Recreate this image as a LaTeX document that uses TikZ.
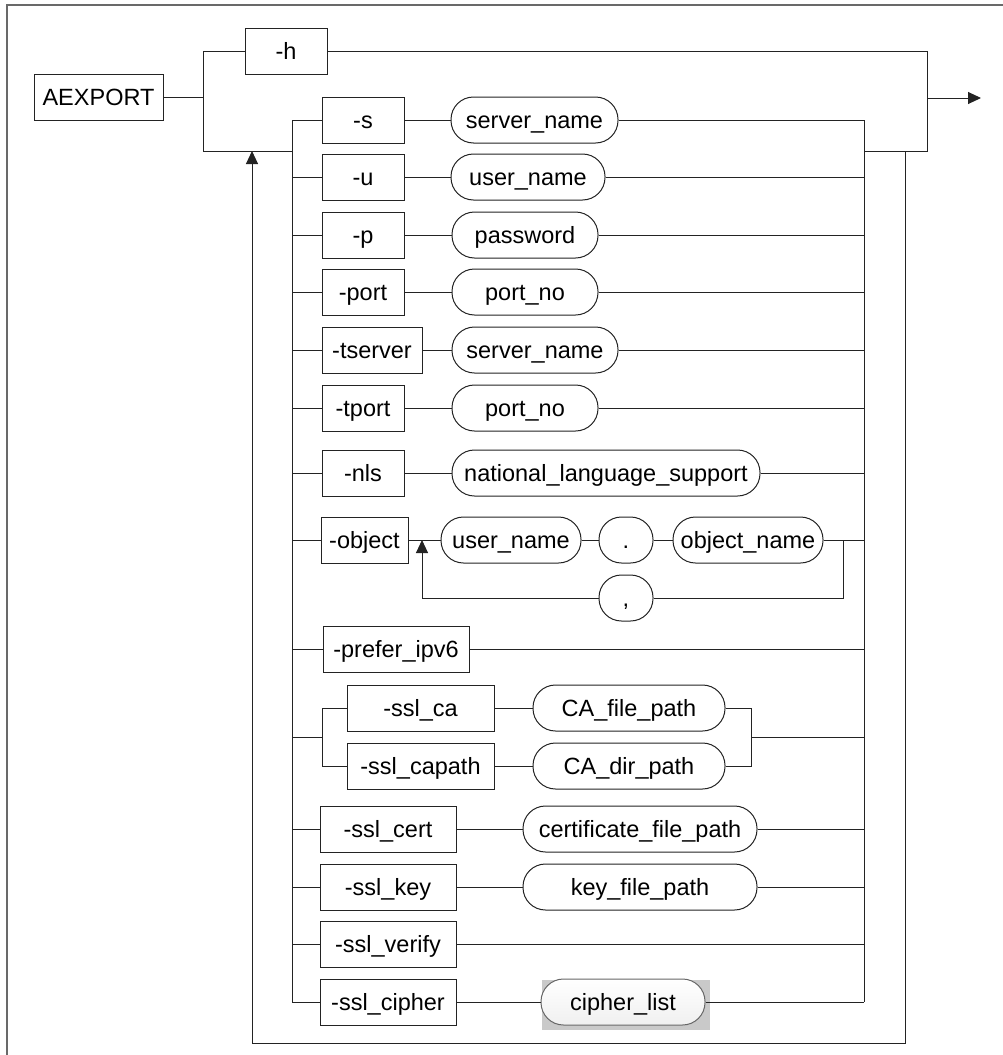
\documentclass[tikz,border=0pt]{standalone}
\usepackage{fontspec}
\setmainfont{Liberation Sans}
\usetikzlibrary{arrows.meta}
\definecolor{ln}{RGB}{35,35,35}
\definecolor{frm}{RGB}{105,105,105}
\tikzset{
  base/.style={draw=ln, line width=1pt, minimum height=46pt, inner sep=0pt,
    text height=16.5pt, text depth=0pt,
    font=\fontsize{23.5}{28}\selectfont, text=black, fill=white},
  kw/.style={base, rectangle},
  var/.style={base, rectangle, rounded corners=22.5pt},
  conn/.style={draw=ln, line width=1pt},
  arr/.style={conn, -{Triangle[length=13pt,width=12pt]}},
}
\begin{document}
\begin{tikzpicture}[x=1pt,y=-1pt]
\useasboundingbox (0,0) rectangle (1003,1055);
% frame
\draw[frm, line width=2pt] (7,1055) -- (7,5) -- (1003,5);

% keyword boxes
\node[kw, minimum width=129pt] (ae) at (98.5,97) {AEXPORT};
\node[kw, minimum width=82pt] (h) at (286,51) {-h};
\node[kw, minimum width=82pt] (s) at (363,120) {-s};
\node[kw, minimum width=82pt] (u) at (363,177) {-u};
\node[kw, minimum width=82pt] (p) at (363,235) {-p};
\node[kw, minimum width=82pt] (port) at (363,292) {-port};
\node[kw, minimum width=100pt] (ts) at (372,350) {-tserver};
\node[kw, minimum width=82pt] (tp) at (363,408) {-tport};
\node[kw, minimum width=82pt] (nls) at (363,473) {-nls};
\node[kw, minimum width=87pt] (obj) at (364.5,540) {-object};
\node[kw, minimum width=146pt] (pref) at (396,649) {-prefer\_ipv6};
\node[kw, minimum width=147pt] (ca) at (420.5,708) {-ssl\_ca};
\node[kw, minimum width=147pt] (cap) at (420.5,766) {-ssl\_capath};
\node[kw, minimum width=136pt] (cert) at (388,829) {-ssl\_cert};
\node[kw, minimum width=136pt] (key) at (388,887) {-ssl\_key};
\node[kw, minimum width=136pt] (ver) at (388,944) {-ssl\_verify};
\node[kw, minimum width=136pt] (cip) at (388,1002) {-ssl\_cipher};

% variable ovals
\node[var, minimum width=167pt] (sv) at (534.5,120) {server\_name};
\node[var, minimum width=154pt] (uv) at (528,177) {user\_name};
\node[var, minimum width=146pt] (pv) at (525,235) {password};
\node[var, minimum width=146pt] (portv) at (525,292) {port\_no};
\node[var, minimum width=166pt] (tsv) at (535,350) {server\_name};
\node[var, minimum width=146pt] (tpv) at (525,408) {port\_no};
\node[var, minimum width=308pt] (nlsv) at (606,473) {national\_language\_support};
\node[var, minimum width=140pt] (ou) at (511,540) {user\_name};
\node[var, minimum width=54pt] (dot) at (626,540) {.};
\node[var, minimum width=150pt] (on) at (748,540) {object\_name};
\node[var, minimum width=54pt] (comma) at (626,598) {,};
\node[var, minimum width=192pt] (caf) at (629,708) {CA\_file\_path};
\node[var, minimum width=192pt] (cad) at (629,766) {CA\_dir\_path};
\node[var, minimum width=234pt] (certv) at (640,829) {certificate\_file\_path};
\node[var, minimum width=234pt] (keyv) at (640,887) {key\_file\_path};
\fill[gray!42] (542,980) rectangle (710,1030);
\node[var, minimum width=164pt, draw=gray!80!black, top color=white, bottom color=gray!12] (cipv) at (623,1002) {cipher\_list};

% junction coordinates
\coordinate (Jm) at (203,97);
\coordinate (Jt) at (203,51);
\coordinate (Jb) at (203,151);
\coordinate (Lt) at (292,120);
\coordinate (Lj) at (292,151);
\coordinate (Lb) at (292,1002);
\coordinate (Rt) at (864,120);
\coordinate (Rj) at (864,151);
\coordinate (Rb) at (864,1002);
\coordinate (Et) at (927,51);
\coordinate (Eb) at (927,151);
\coordinate (Em) at (927,98);
\coordinate (Out) at (981,98);
\coordinate (Kt) at (905,151);
\coordinate (Kb) at (905,1043);
\coordinate (Kl) at (252,1043);
\coordinate (Ka) at (252,151);
\coordinate (Oj) at (843,540);
\coordinate (Oa) at (422,540);
\coordinate (Sv) at (322,737);
\coordinate (Cr) at (751,737);

% main structure
\draw[conn] (ae.east) -- (Jm);
\draw[conn] (Jt) -- (Jb) -- (Lj);
\draw[conn] (Jt) -- (h.west);
\draw[conn] (h.east) -- (Et) -- (Eb) -- (Rj);
\draw[arr] (Em) -- (Out);
\draw[conn] (Lt) -- (Lb);
\draw[conn] (Rt) -- (Rb);
\draw[arr] (Kt) -- (Kb) -- (Kl) -- (Ka);

% simple rows
\foreach \k/\v in {s/sv,u/uv,p/pv,port/portv,ts/tsv,tp/tpv,nls/nlsv,cert/certv,key/keyv,cip/cipv}{
  \draw[conn] (Lt |- \k) -- (\k.west);
  \draw[conn] (\k.east) -- (\v.west);
  \draw[conn] (\v.east) -- (Rt |- \v);
}
\foreach \k in {pref,ver}{
  \draw[conn] (Lt |- \k) -- (\k.west);
  \draw[conn] (\k.east) -- (Rt |- \k);
}

% object row
\draw[conn] (Lt |- obj) -- (obj.west);
\draw[conn] (obj.east) -- (ou.west);
\draw[conn] (ou.east) -- (dot.west);
\draw[conn] (dot.east) -- (on.west);
\draw[conn] (on.east) -- (Rt |- on);
\draw[conn] (Oj) -- (Oj |- comma) -- (comma.east);
\draw[arr] (comma.west) -- (Oa |- comma) -- (Oa);

% ssl ca group
\draw[conn] (Lt |- Sv) -- (Sv);
\draw[conn] (Sv |- ca) -- (Sv |- cap);
\draw[conn] (Sv |- ca) -- (ca.west);
\draw[conn] (Sv |- cap) -- (cap.west);
\draw[conn] (ca.east) -- (caf.west);
\draw[conn] (cap.east) -- (cad.west);
\draw[conn] (caf.east) -- (Cr |- caf) -- (Cr |- cad) -- (cad.east);
\draw[conn] (Cr) -- (Rt |- Cr);
\end{tikzpicture}
\end{document}
